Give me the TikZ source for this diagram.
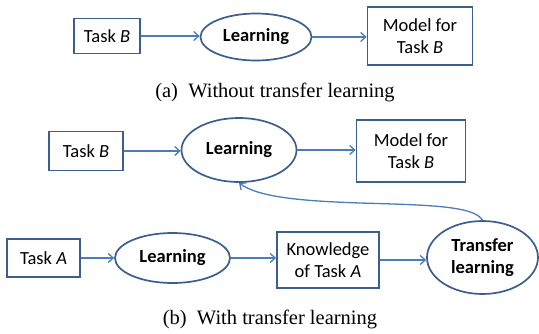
\documentclass[tikz,border=0pt]{standalone}
\usepackage{fontspec}
\setmainfont{Liberation Serif}
\newfontfamily\boxfont{Carlito}
\usetikzlibrary{shapes.geometric,arrows.meta}

\definecolor{edgeblue}{HTML}{3B5E8E}
\definecolor{linkblue}{HTML}{4A7EBB}

\tikzset{
  taskbox/.style={draw=edgeblue, line width=1.7pt, fill=white, inner sep=0pt,
    align=center, font=\boxfont\fontsize{18.5}{22.5}\selectfont},
  learnnode/.style={ellipse, draw=edgeblue, line width=1.7pt, fill=white, inner sep=0pt,
    align=center, font=\boxfont\bfseries\fontsize{18.5}{22.5}\selectfont},
  link/.style={draw=linkblue, line width=1.3pt,
    -{Straight Barb[length=5pt,width=9pt,line width=1.3pt]}},
  caption/.style={font=\fontsize{20.5}{24}\selectfont, inner sep=0pt}
}

\begin{document}
\begin{tikzpicture}[x=1pt, y=-1pt]
\useasboundingbox (0,0) rectangle (539,333);

% (a) without transfer learning
\node[taskbox, minimum width=66pt, minimum height=35pt] (tbA) at (107,36) {Task \emph{B}};
\node[learnnode, minimum width=111pt, minimum height=47pt] (lnA) at (256,37) {Learning};
\node[taskbox, minimum width=105pt, minimum height=58pt] (mdA) at (420,36) {Model for\\Task \emph{B}};
\draw[link] (tbA.east) -- (lnA.west |- tbA.east);
\draw[link] (lnA.east) -- (mdA.west |- lnA.east);
\node[caption] (capA) at (275,92) {(a)\enspace Without transfer learning};

% (b) with transfer learning: target task row
\node[taskbox, minimum width=74pt, minimum height=39pt] (tbB) at (86,151) {Task \emph{B}};
\node[learnnode, minimum width=115pt, minimum height=64pt] (lnB) at (239,150) {Learning};
\node[taskbox, minimum width=109pt, minimum height=62pt] (mdB) at (411,151) {Model for\\Task \emph{B}};
\draw[link] (tbB.east) -- (lnB.west |- tbB.east);
\draw[link] (lnB.east) -- (mdB.west |- lnB.east);

% (b) source task row
\node[taskbox, minimum width=73pt, minimum height=38pt] (taA) at (43.5,258) {Task \emph{A}};
\node[learnnode, minimum width=115pt, minimum height=50pt] (lnS) at (172.5,258) {Learning};
\node[taskbox, minimum width=102pt, minimum height=56pt] (kn) at (328,260) {Knowledge\\of Task \emph{A}};
\node[learnnode, minimum width=111pt, minimum height=73pt] (tl) at (482.5,257.5) {Transfer\\learning};
\draw[link] (taA.east) -- (lnS.west |- taA.east);
\draw[link] (lnS.east) -- (kn.west |- lnS.east);
\draw[link] (kn.east) -- (tl.west |- kn.east);

% transferred knowledge feeds the target learner
\draw[link] (tl.north) .. controls (474,206) and (430,205) .. (360,203)
  .. controls (300,201) and (258,197) .. (lnB.south);

\node[caption] (capB) at (270,319) {(b)\enspace With transfer learning};
\end{tikzpicture}
\end{document}
